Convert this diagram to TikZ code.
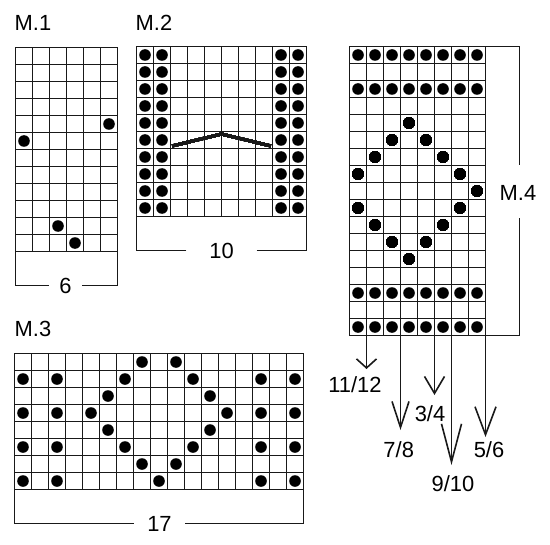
\documentclass[tikz,border=0pt]{standalone}
\usepackage{fontspec}
\setmainfont{Liberation Sans}
\usepackage{tikz}
\usetikzlibrary{arrows.meta}
\usetikzlibrary{positioning}

\newcommand{\cellsz}{17}
\tikzset{
	gridline/.style={draw=black!90, line width=1.7bp, line cap=rect},
	stitch/.style={fill=black},
	frame/.style={draw=black!90, line width=1.7bp},
	chevron/.style={draw=black!90, line width=3bp},
	chartname/.style={font=\fontsize{22}{26}\selectfont, inner sep=0pt, anchor=base west},
	sidename/.style={font=\fontsize{22}{26}\selectfont, inner sep=0pt},
	count/.style={font=\fontsize{22}{26}\selectfont, inner ysep=0pt},
	rowlabel/.style={font=\fontsize{22}{26}\selectfont, inner sep=0pt, anchor=base},
	rowarrow/.style={draw=black!90, line width=1.6bp},
}
% empty chart, cols x rows, top left at (0,0)
\newcommand{\knitchart}[2]{%
	\foreach \i in {0,...,#1} \draw[gridline] (\i*\cellsz,0) -- (\i*\cellsz,#2*\cellsz);
	\foreach \j in {0,...,#2} \draw[gridline] (0,\j*\cellsz) -- (#1*\cellsz,\j*\cellsz);
}
\newcommand{\knitdot}[2]{\fill[stitch] ({(#1-0.5)*\cellsz},{(#2-0.5)*\cellsz}) circle (5.8bp);}

\begin{document}
\begin{tikzpicture}[x=1bp, y=-1bp]
	\useasboundingbox (0,0) rectangle (550,545);

	% M.1
	\node[chartname] (m1name) at (14.5,31) {M.1};
	\begin{scope}[shift={(15.5,47.5)}]
		\knitchart{6}{12}
		\foreach \c/\r in {6/5, 1/6, 3/11, 4/12} \knitdot{\c}{\r}
		\coordinate (m1l) at (0,12*\cellsz);
		\coordinate (m1r) at (6*\cellsz,12*\cellsz);
	\end{scope}
	\node[count, inner xsep=10.5bp] (m1count) at (65.5,285.5) {6};
	\draw[frame] (m1count.west) -| (m1l);
	\draw[frame] (m1count.east) -| (m1r);

	% M.2
	\node[chartname] (m2name) at (135.5,31) {M.2};
	\begin{scope}[shift={(136.5,46.5)}]
		\knitchart{10}{10}
		\foreach \r in {1,...,10}
			\foreach \c in {1,2,9,10} \knitdot{\c}{\r}
		\draw[chevron] (2.1*\cellsz,5.85*\cellsz) -- (5*\cellsz,5.15*\cellsz) -- (7.9*\cellsz,5.85*\cellsz);
		\coordinate (m2l) at (0,10*\cellsz);
		\coordinate (m2r) at (10*\cellsz,10*\cellsz);
	\end{scope}
	\node[count, inner xsep=22.8bp] (m2count) at (221.5,250.5) {10};
	\draw[frame] (m2count.west) -| (m2l);
	\draw[frame] (m2count.east) -| (m2r);

	% M.3
	\node[chartname] (m3name) at (14.5,336) {M.3};
	\begin{scope}[shift={(14.5,353.5)}]
		\knitchart{17}{8}
		\foreach \c/\r in {8/1, 10/1,
			1/2, 3/2, 7/2, 11/2, 15/2, 17/2,
			6/3, 12/3,
			1/4, 3/4, 5/4, 13/4, 15/4, 17/4,
			6/5, 12/5,
			1/6, 3/6, 7/6, 11/6, 15/6, 17/6,
			8/7, 10/7,
			1/8, 3/8, 9/8, 15/8, 17/8} \knitdot{\c}{\r}
		\coordinate (m3l) at (0,8*\cellsz);
		\coordinate (m3r) at (17*\cellsz,8*\cellsz);
	\end{scope}
	\node[count, inner xsep=13.3bp] (m3count) at (159.5,523.5) {17};
	\draw[frame] (m3count.west) -| (m3l);
	\draw[frame] (m3count.east) -| (m3r);

	% M.4
	\begin{scope}[shift={(349.5,46.5)}]
		\knitchart{8}{17}
		\foreach \r in {1,3,15,17}
			\foreach \c in {1,...,8} \knitdot{\c}{\r}
		\foreach \c/\r in {4/5, 3/6, 5/6, 2/7, 6/7, 1/8, 7/8, 8/9,
			1/10, 7/10, 2/11, 6/11, 3/12, 5/12, 4/13} \knitdot{\c}{\r}
		\draw[frame] (8*\cellsz,0) -| (10*\cellsz,7*\cellsz);
		\draw[frame] (8*\cellsz,17*\cellsz) -| (10*\cellsz,10.1*\cellsz);
		\node[sidename] (m4name) at (168.5,8.6*\cellsz) {M.4};
		\coordinate (b1) at (1*\cellsz,17*\cellsz);
		\coordinate (b3) at (3*\cellsz,17*\cellsz);
		\coordinate (b5) at (5*\cellsz,17*\cellsz);
		\coordinate (b6) at (6*\cellsz,17*\cellsz);
		\coordinate (b8) at (8*\cellsz,17*\cellsz);
	\end{scope}

	% rows
	\coordinate[below=33.5bp of b1] (t1);
	\coordinate[below=94.5bp of b3] (t3);
	\coordinate[below=59.5bp of b5] (t5);
	\coordinate[below=129.5bp of b6] (t6);
	\coordinate[below=101.5bp of b8] (t8);
	\draw[rowarrow, -{Straight Barb[length=9bp,width=20bp]}] (b1) -- (t1);
	\draw[rowarrow, -{Straight Barb[length=26bp,width=17bp]}] (b3) -- (t3);
	\draw[rowarrow, -{Straight Barb[length=17bp,width=20bp]}] (b5) -- (t5);
	\draw[rowarrow, -{Straight Barb[length=38bp,width=20bp]}] (b6) -- (t6);
	\draw[rowarrow, -{Straight Barb[length=28bp,width=21bp]}] (b8) -- (t8);
	\node[rowlabel] (r11) at (355,392.7) {11/12};
	\node[rowlabel] (r7) at (398.7,457.7) {7/8};
	\node[rowlabel] (r3) at (430,421) {3/4};
	\node[rowlabel] (r9) at (453,491) {9/10};
	\node[rowlabel] (r5) at (489,457.7) {5/6};
\end{tikzpicture}
\end{document}
